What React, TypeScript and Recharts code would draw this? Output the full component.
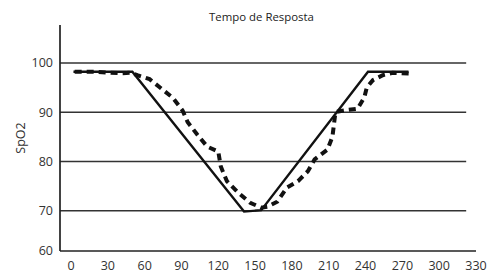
import React from "react";
import { LineChart, Line, XAxis, YAxis, ReferenceLine } from "recharts";

const xTicks = [0, 30, 60, 90, 120, 150, 180, 210, 240, 270, 300, 330];
const yTicks = [61.8, 70, 80, 90, 100];
const gridValues = [70, 80, 90, 100];

const solidX = [2, 50, 141, 155, 242, 275];
const solidY = [98.2, 98.2, 69.8, 70.1, 98.2, 98.2];

const dashedX = [3, 20, 40, 49, 54, 64, 74, 83, 91, 95, 103, 111, 120, 122, 127, 136, 146, 155, 160, 168, 176, 185, 193, 198.5, 209, 213, 215.5, 221, 233.5, 239, 241, 246, 254, 262, 278];
const dashedY = [98.2, 98.2, 97.9, 98.0, 97.5, 96.7, 94.7, 92.9, 90.3, 88, 85.4, 83, 82, 79, 76, 73.7, 71.6, 70.6, 70.8, 71.8, 74.7, 76, 78, 80.4, 82.4, 85, 90, 90.3, 90.7, 93, 95, 96.5, 97.5, 98, 97.8];

const solidData = solidX.map((x, i) => ({ x, y: solidY[i] }));
const dashedData = dashedX.map((x, i) => ({ x, y: dashedY[i] }));

const tickStyle = { fontFamily: "'Open Sans', sans-serif", fontSize: 12.5, fill: "#333" };

export default function App() {
  return (
    <div style={{ position: "absolute", left: 0, top: 0, width: 489, height: 275, background: "#fff" }}>
      <div
        style={{
          position: "absolute",
          left: 0,
          width: 523,
          top: 9,
          textAlign: "center",
          fontFamily: "'Open Sans', sans-serif",
          fontSize: 11.4,
          color: "#222",
          lineHeight: "16px",
        }}
      >
        Tempo de Resposta
      </div>
      <LineChart width={489} height={275} margin={{ top: 25, right: 13, bottom: 0, left: 0 }}>
        <XAxis
          type="number"
          dataKey="x"
          domain={[0, 330]}
          ticks={xTicks}
          height={24}
          padding={{ left: 11, right: 0 }}
          tickLine={false}
          tickSize={0}
          tickMargin={10}
          axisLine={{ stroke: "#222", strokeWidth: 1.7 }}
          tick={tickStyle}
          interval={0}
          allowDataOverflow
        />
        <YAxis
          type="number"
          dataKey="y"
          domain={[61.8, 107.7]}
          ticks={yTicks}
          width={60}
          tickLine={false}
          tickSize={0}
          tickMargin={7}
          axisLine={{ stroke: "#222", strokeWidth: 1.7 }}
          tick={tickStyle}
          tickFormatter={(v: number) => String(Math.round(v / 10) * 10)}
          interval={0}
          allowDataOverflow
          label={{
            value: "SpO2",
            angle: -90,
            position: "insideLeft",
            dx: 16,
            style: { fontFamily: "'Open Sans', sans-serif", fontSize: 12.5, fill: "#333", textAnchor: "middle" },
          }}
        />
        {gridValues.map((v) => (
          <ReferenceLine
            key={v}
            segment={[{ x: -9, y: v }, { x: 322, y: v }]}
            stroke="#333"
            strokeWidth={1.5}
            ifOverflow="visible"
          />
        ))}
        <Line
          data={solidData}
          dataKey="y"
          type="linear"
          stroke="#111"
          strokeWidth={2.4}
          dot={false}
          isAnimationActive={false}
        />
        <Line
          data={dashedData}
          dataKey="y"
          type="linear"
          stroke="#111"
          strokeWidth={4}
          strokeDasharray="7 5"
          dot={false}
          isAnimationActive={false}
        />
      </LineChart>
    </div>
  );
}
